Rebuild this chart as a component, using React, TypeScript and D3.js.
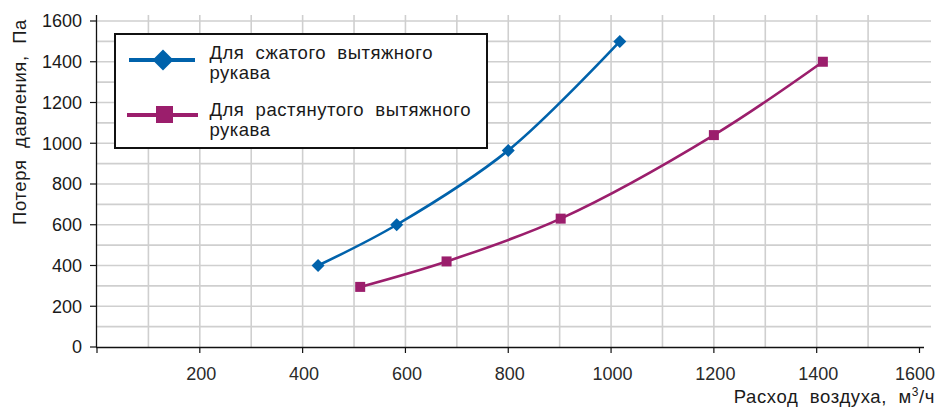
import React from "react";
import * as d3 from "d3";

const xTicks = [0, 200, 400, 600, 800, 1000, 1200, 1400, 1600];
const xTickLabels = ["", "200", "400", "600", "800", "1000", "1200", "1400", "1600"];
const yTicks = [0, 200, 400, 600, 800, 1000, 1200, 1400, 1600];
const xGrid = [100, 200, 300, 400, 500, 600, 700, 800, 900, 1000, 1100, 1200, 1300, 1400, 1500];
const yGrid = [100, 200, 300, 400, 500, 600, 700, 800, 900, 1000, 1100, 1200, 1300, 1400, 1500, 1600];

const compressedX = [430, 583, 800, 1017];
const compressedY = [400, 600, 965, 1500];
const stretchedX = [512, 680, 902, 1200, 1412];
const stretchedY = [295, 420, 630, 1040, 1400];

const seriesNames = [
  ["Для  сжатого  вытяжного", "рукава"],
  ["Для  растянутого  вытяжного", "рукава"],
];
const yTitle = "Потеря  давления,  Па";
const xTitle = "Расход  воздуха,  м";

const BLUE = "#0062AB";
const PINK = "#9B1E6C";
const FONT = "'Liberation Sans', Arial, Helvetica, sans-serif";

export default function App() {
  const W = 937, H = 407;
  const x = d3.scaleLinear().domain([0, 1600]).range([97, 919.5]);
  const y = d3.scaleLinear().domain([0, 1600]).range([347, 21]);
  const line = d3
    .line<[number, number]>()
    .x((d) => x(d[0]))
    .y((d) => y(d[1]))
    .curve(d3.curveCatmullRom.alpha(0.5));
  const comp: [number, number][] = compressedX.map((v, i) => [v, compressedY[i]]);
  const str: [number, number][] = stretchedX.map((v, i) => [v, stretchedY[i]]);

  return (
    <svg width={W} height={H} style={{ position: "absolute", left: 0, top: 0 }} fontFamily={FONT}>
      <rect width={W} height={H} fill="#fff" />
      {/* grid */}
      {xGrid.map((g) => (
        <line key={"gx" + g} x1={x(g)} x2={x(g)} y1={15} y2={y(0)} stroke="#cfcfcf" strokeWidth={1.6} />
      ))}
      {yGrid.map((g) => (
        <line key={"gy" + g} x1={97} x2={931} y1={y(g)} y2={y(g)} stroke="#cfcfcf" strokeWidth={1.6} />
      ))}
      {/* axes */}
      <line x1={96.5} x2={96.5} y1={15} y2={y(0)} stroke="#111" strokeWidth={1.3} />
      <line x1={96} x2={924} y1={y(0) + 0.5} y2={y(0) + 0.5} stroke="#111" strokeWidth={1.3} />
      {yTicks.map((t) => (
        <g key={"yt" + t}>
          <line x1={90} x2={96} y1={y(t)} y2={y(t)} stroke="#111" strokeWidth={1.2} />
          <text x={82} y={y(t)} dy="0.36em" textAnchor="end" fontSize={18} fill="#1a1a1a">
            {t}
          </text>
        </g>
      ))}
      {xTicks.map((t, i) => (
        <g key={"xt" + t}>
          <line x1={x(t)} x2={x(t)} y1={y(0)} y2={y(0) + 6} stroke="#111" strokeWidth={1.2} />
          <text x={Math.min(x(t) + 1.5, 915)} y={380} textAnchor="middle" fontSize={18} fill="#2a2a2a">
            {xTickLabels[i]}
          </text>
        </g>
      ))}
      {/* axis titles */}
      <text
        transform={`translate(25.5,122) rotate(-90)`}
        textAnchor="middle"
        fontSize={18.5}
        letterSpacing={0.6}
        fill="#1a1a1a"
        style={{ whiteSpace: "pre" }}
      >
        {yTitle}
      </text>
      <text
        x={935}
        y={403.3}
        textAnchor="end"
        fontSize={18.5}
        letterSpacing={0.6}
        fill="#1a1a1a"
        style={{ whiteSpace: "pre" }}
      >
        {xTitle}
        <tspan fontSize={12} dy={-7}>3</tspan>
        <tspan dy={7}>/ч</tspan>
      </text>
      {/* series */}
      <path d={line(comp) || ""} fill="none" stroke={BLUE} strokeWidth={2.6} />
      <path d={line(str) || ""} fill="none" stroke={PINK} strokeWidth={2.6} />
      {comp.map((d, i) => (
        <path
          key={"cm" + i}
          d="M0,-6.5L6.5,0L0,6.5L-6.5,0Z"
          transform={`translate(${x(d[0])},${y(d[1])})`}
          fill={BLUE}
        />
      ))}
      {str.map((d, i) => (
        <rect key={"sm" + i} x={x(d[0]) - 5} y={y(d[1]) - 5} width={10} height={10} fill={PINK} />
      ))}
      {/* legend */}
      <rect x={115} y={34} width={372} height={114} fill="#fff" stroke="#111" strokeWidth={2} />
      <line x1={129} x2={195} y1={60} y2={60} stroke={BLUE} strokeWidth={4} />
      <path d="M0,-10.5L10.5,0L0,10.5L-10.5,0Z" transform="translate(163,60)" fill={BLUE} />
      <line x1={127} x2={198} y1={115} y2={115} stroke={PINK} strokeWidth={4} />
      <rect x={156} y={106} width={17} height={17} fill={PINK} />
      {seriesNames.map((lines, si) =>
        lines.map((l, li) => (
          <text
            key={"lg" + si + li}
            x={209.5}
            y={59 + si * 56.5 + li * 20}
            fontSize={18.5}
            letterSpacing={0.5}
            fill="#1a1a1a"
            style={{ whiteSpace: "pre" }}
          >
            {l}
          </text>
        ))
      )}
    </svg>
  );
}
